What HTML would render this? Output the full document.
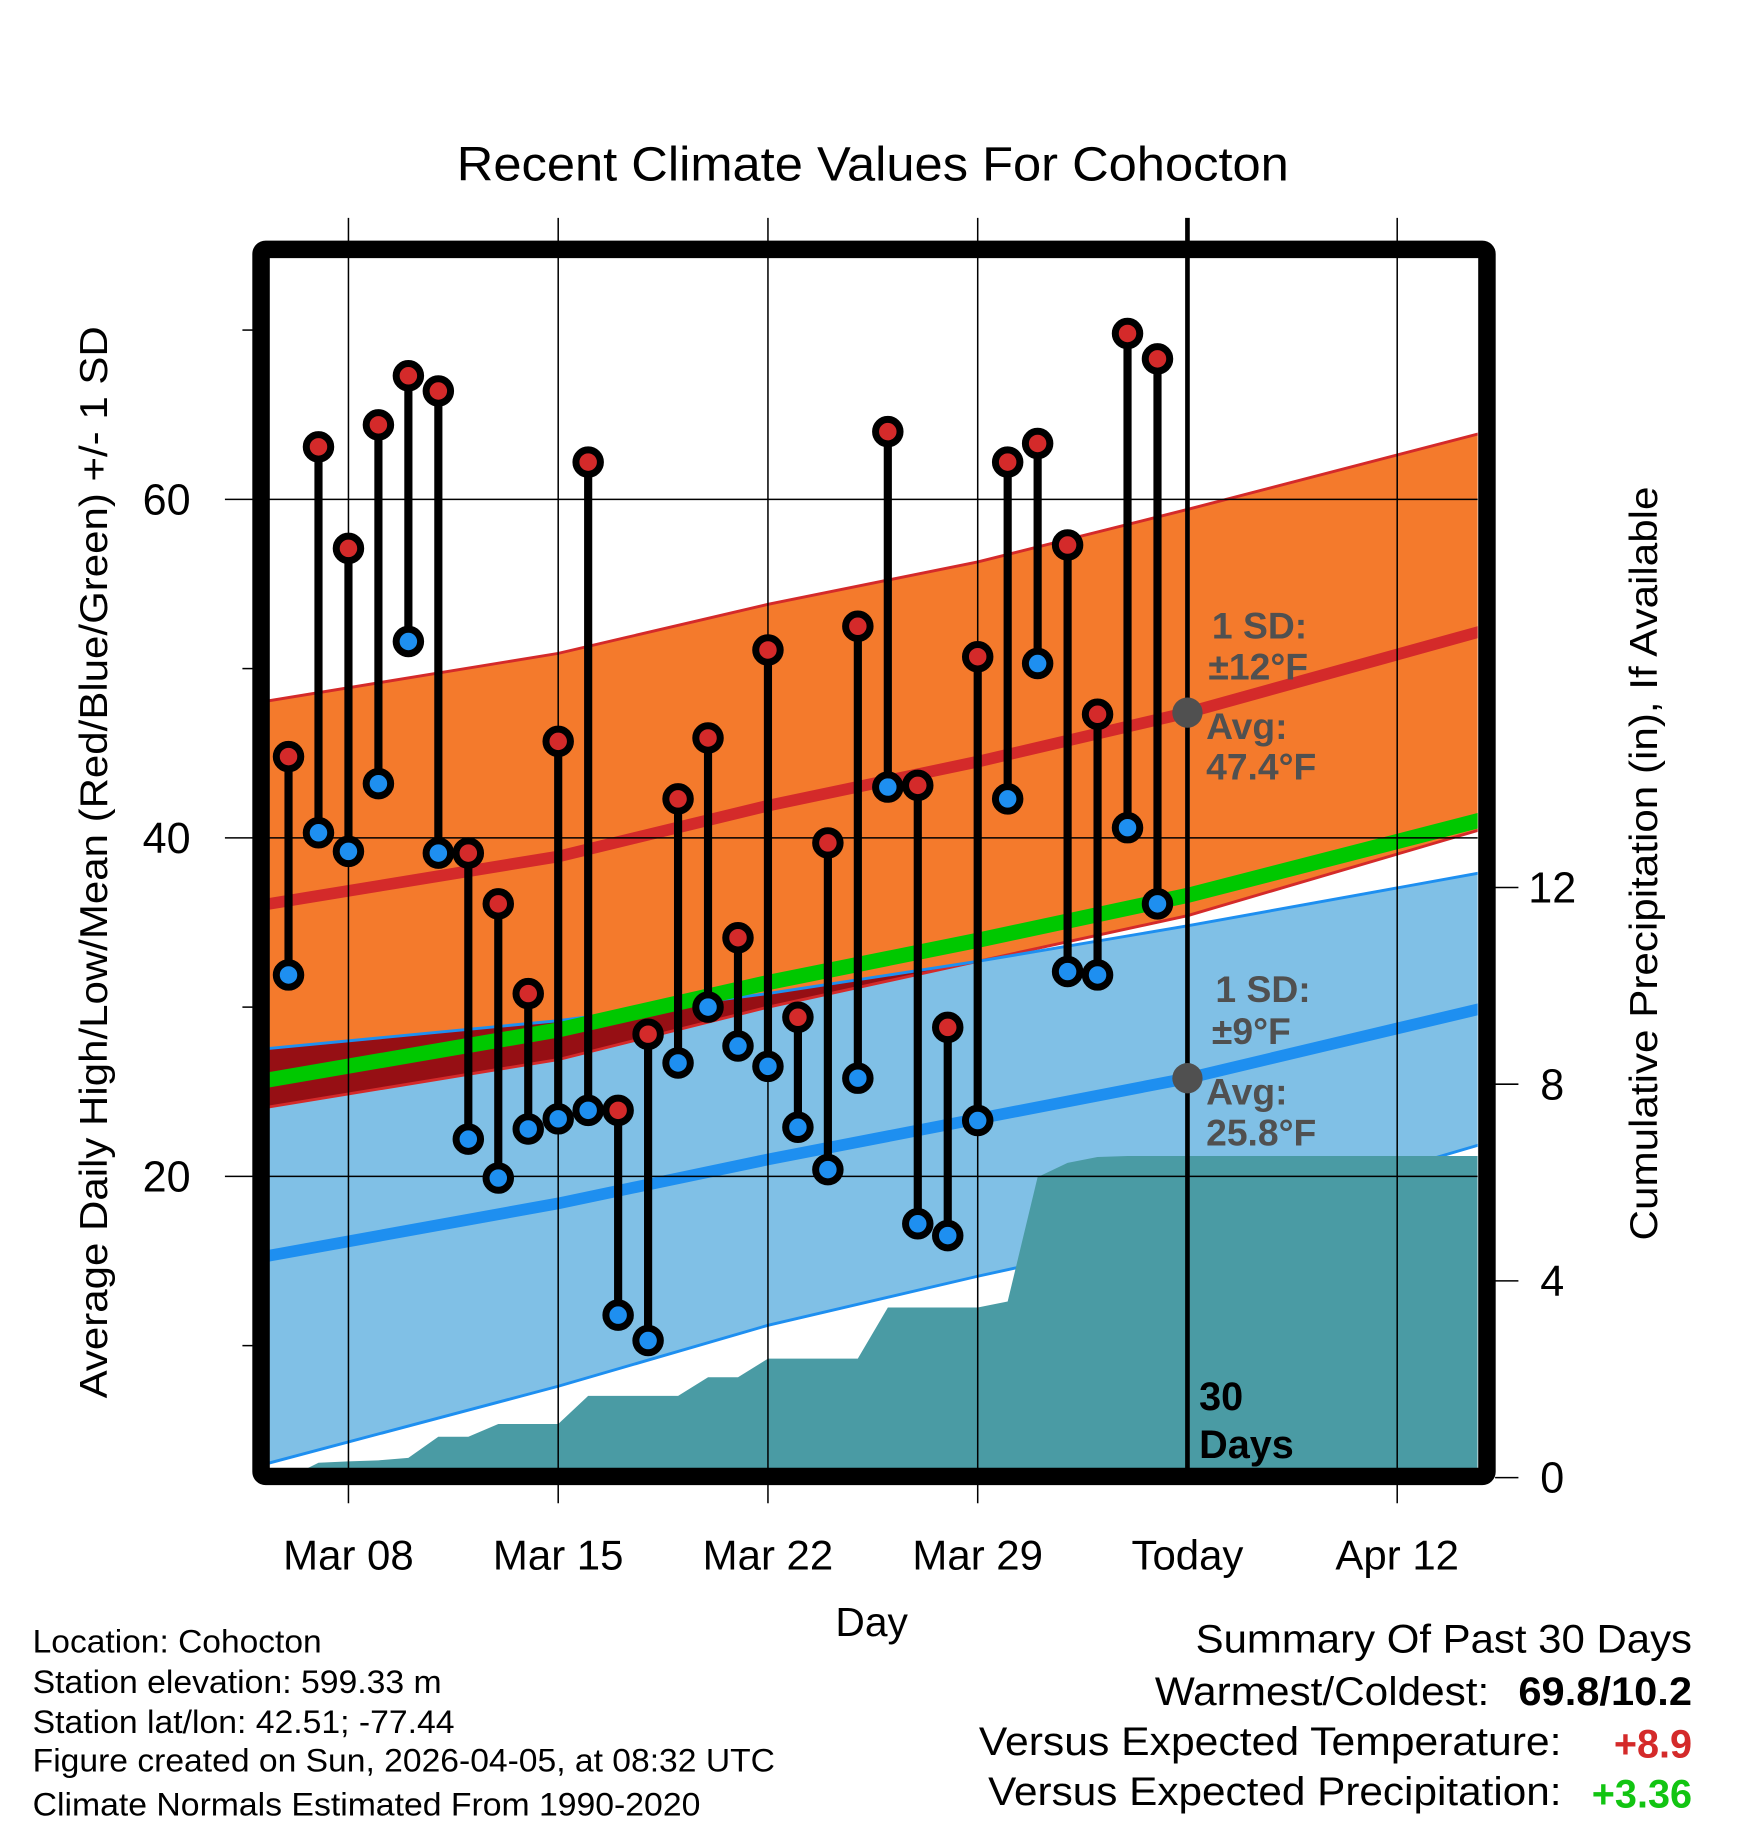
<!DOCTYPE html>
<html><head><meta charset="utf-8"><style>
html,body{margin:0;padding:0;background:#fff}
svg{display:block;font-family:"Liberation Sans",Arial,sans-serif}
</style></head><body>
<svg id="chart" width="1748" height="1828" viewBox="0 0 1500 1568.7" xmlns="http://www.w3.org/2000/svg">
<defs>
<clipPath id="plotclip"><rect x="231" y="221" width="1037" height="1039"/></clipPath>
</defs>
<g id="bands" clip-path="url(#plotclip)"></g>
<g id="grid"></g>
<g id="marks"></g>
<text x="749" y="155" font-size="41" text-anchor="middle" textLength="714" lengthAdjust="spacingAndGlyphs">Recent Climate Values For Cohocton</text>
<text transform="translate(92,740) rotate(-90)" font-size="33" text-anchor="middle" textLength="920" lengthAdjust="spacingAndGlyphs">Average Daily High/Low/Mean (Red/Blue/Green) +/- 1 SD</text>
<text transform="translate(1422,741) rotate(-90)" font-size="33" text-anchor="middle" textLength="647" lengthAdjust="spacingAndGlyphs">Cumulative Precipitation (in), If Available</text>
<text x="748" y="1404" font-size="35" text-anchor="middle">Day</text>
<g font-size="28" fill="#000">
<text x="28" y="1418" textLength="248" lengthAdjust="spacingAndGlyphs">Location: Cohocton</text>
<text x="28" y="1453" textLength="351" lengthAdjust="spacingAndGlyphs">Station elevation: 599.33 m</text>
<text x="28" y="1487" textLength="362" lengthAdjust="spacingAndGlyphs">Station lat/lon: 42.51; -77.44</text>
<text x="28" y="1520" textLength="637" lengthAdjust="spacingAndGlyphs">Figure created on Sun, 2026-04-05, at 08:32 UTC</text>
<text x="28" y="1558" textLength="573" lengthAdjust="spacingAndGlyphs">Climate Normals Estimated From 1990-2020</text>
</g>
<g font-size="34" text-anchor="end">
<text x="1452" y="1418" textLength="426" lengthAdjust="spacingAndGlyphs">Summary Of Past 30 Days</text>
<text x="1278" y="1463" textLength="287" lengthAdjust="spacingAndGlyphs">Warmest/Coldest:</text>
<text x="1452" y="1463" font-weight="bold" textLength="149" lengthAdjust="spacingAndGlyphs">69.8/10.2</text>
<text x="1340" y="1506" textLength="500" lengthAdjust="spacingAndGlyphs">Versus Expected Temperature:</text>
<text x="1452" y="1508" font-weight="bold" fill="#d42a2a">+8.9</text>
<text x="1340" y="1549" textLength="492" lengthAdjust="spacingAndGlyphs">Versus Expected Precipitation:</text>
<text x="1452" y="1551" font-weight="bold" fill="#12c412">+3.36</text>
</g>
<script>
// ---- data ----
const dayLabels = ["Mar 08","Mar 15","Mar 22","Mar 29","Today","Apr 12"];
const dayTicks = [0,7,14,21,28,35];
const obsDays = [-2,-1,0,1,2,3,4,5,6,7,8,9,10,11,12,13,14,15,16,17,18,19,20,21,22,23,24,25,26,27];
const highs = [44.8,63.1,57.1,64.4,67.3,66.4,39.1,36.1,30.8,45.7,62.2,23.9,28.4,42.3,45.9,34.1,51.1,29.4,39.7,52.5,64.0,43.1,28.8,50.7,62.2,63.3,57.3,47.3,69.8,68.3];
const lows = [31.9,40.3,39.2,43.2,51.6,39.1,22.2,19.9,22.8,23.4,23.9,11.8,10.3,26.7,30.0,27.7,26.5,22.9,20.4,25.8,43.0,17.2,16.5,23.3,42.3,50.3,32.1,31.9,40.6,36.1];
const precipCum = [0.0,0.3,0.33,0.35,0.4,0.83,0.83,1.09,1.09,1.09,1.66,1.66,1.66,1.66,2.04,2.04,2.42,2.42,2.42,2.42,3.46,3.46,3.46,3.46,3.58,6.11,6.4,6.52,6.54,6.54];
const normDays = [-3,7,14,21,28,38];
const normHigh = [36.0,38.9,41.9,44.5,47.4,52.3];
const sdHigh = [12.0,12.0,11.9,11.8,12.0,11.7];
const normLow = [15.2,18.4,21.0,23.4,25.8,30.0];
const sdLow = [12.3,10.8,9.8,9.3,9.0,8.0];
const yTicks = [20,40,60];
const yMinor = [10,30,50,70];
const pTicks = [0,4,8,12];

// ---- axes ----
const X = d => 299 + d*25.714;
const Y = t => 719 - (t-40)*14.525;
const P = p => 1268 - p*42.2;
const NS = "http://www.w3.org/2000/svg";
function mk(tag, attrs, parent){const e=document.createElementNS(NS,tag);for(const k in attrs)e.setAttribute(k,attrs[k]);parent.appendChild(e);return e;}
const svg = document.getElementById('chart');
const bands = document.getElementById('bands');
const grid = document.getElementById('grid');
const marks = document.getElementById('marks');

function curve(vals){return normDays.map((d,i)=>[X(d),Y(vals[i])]);}
function pathOf(p){return 'M'+p.map(q=>q[0].toFixed(1)+','+q[1].toFixed(1)).join('L');}
const hiU = curve(normHigh.map((v,i)=>v+sdHigh[i]));
const hiL = curve(normHigh.map((v,i)=>v-sdHigh[i]));
const loU = curve(normLow.map((v,i)=>v+sdLow[i]));
const loL = curve(normLow.map((v,i)=>v-sdLow[i]));
const orangePath = pathOf(hiU)+'L'+hiL.slice().reverse().map(q=>q[0].toFixed(1)+','+q[1].toFixed(1)).join('L')+'Z';
const bluePath = pathOf(loU)+'L'+loL.slice().reverse().map(q=>q[0].toFixed(1)+','+q[1].toFixed(1)).join('L')+'Z';

const defs = svg.querySelector('defs');
const cp = mk('clipPath',{id:'blueclip'},defs);
mk('path',{d:bluePath},cp);

let e;
e = mk('path',{d:orangePath,fill:'#f47a2c'},bands);


e = mk('path',{d:bluePath,fill:'#80c0e6'},bands);


e = mk('path',{d:orangePath,fill:'#960f14','clip-path':'url(#blueclip)'},bands);


[hiU,hiL].forEach(c=>{e=mk('path',{d:pathOf(c),fill:'none',stroke:'#d42a2a','stroke-width':2.5},bands);

});
[loU,loL].forEach(c=>{e=mk('path',{d:pathOf(c),fill:'none',stroke:'#1e8ff0','stroke-width':2.5},bands);

});

// precipitation area
let pp = 'M'+X(obsDays[0]).toFixed(1)+','+P(0);
obsDays.forEach((d,i)=>{pp+='L'+X(d).toFixed(1)+','+P(precipCum[i]).toFixed(1);});
pp += 'L1268,'+P(precipCum[precipCum.length-1]).toFixed(1)+'L1268,1262L'+X(obsDays[0]).toFixed(1)+',1262Z';
e = mk('path',{d:pp,fill:'#4a9ba4'},bands);



// normal lines
e = mk('path',{d:pathOf(curve(normHigh.map((v,i)=>(v+normLow[i])/2))),fill:'none',stroke:'#00c800','stroke-width':13},bands);


e = mk('path',{d:pathOf(curve(normHigh)),fill:'none',stroke:'#d42a2a','stroke-width':10},bands);


e = mk('path',{d:pathOf(curve(normLow)),fill:'none',stroke:'#1e8ff0','stroke-width':10},bands);



// gridlines and ticks
dayTicks.forEach((d,i)=>{
  e = mk('line',{x1:X(d),x2:X(d),y1:187,y2:1290,stroke:'#000','stroke-width':d===28?0:1.3},grid);
  
  
  e = mk('text',{x:X(d),y:1347,'font-size':36,'text-anchor':'middle'},grid);
  e.textContent = dayLabels[i];
  
  
});
yTicks.forEach(t=>{
  e = mk('line',{x1:193,x2:1268,y1:Y(t),y2:Y(t),stroke:'#000','stroke-width':1.3},grid);
  
  
  e = mk('text',{x:143,y:Y(t)+13,'font-size':37,'text-anchor':'middle'},grid);
  e.textContent = t;
  
  
});
yMinor.forEach(t=>{
  e = mk('line',{x1:208,x2:217,y1:Y(t),y2:Y(t),stroke:'#000','stroke-width':1.3},grid);
  
  
});
pTicks.forEach(p=>{
  e = mk('line',{x1:1283,x2:1303,y1:P(p),y2:P(p),stroke:'#000','stroke-width':1.3},grid);
  
  
  e = mk('text',{x:1332,y:P(p)+13,'font-size':37,'text-anchor':'middle'},grid);
  e.textContent = p;
  
  
});
e = mk('line',{x1:X(28),x2:X(28),y1:187,y2:1262,stroke:'#000','stroke-width':4},grid);



// annotations
const ann = [["1 SD:",1040,548],["\u00b112\u00b0F",1037,583],["Avg:",1035,634],["47.4\u00b0F",1035,669],
             ["1 SD:",1043,860],["\u00b19\u00b0F",1040,896],["Avg:",1035,948],["25.8\u00b0F",1035,983]];
ann.forEach(a=>{
  e = mk('text',{x:a[1],y:a[2],'font-size':32,'font-weight':'bold',fill:'#505050'},grid);
  e.textContent = a[0];
  
  
});
[normHigh[4],normLow[4]].forEach(v=>{
  e = mk('circle',{cx:X(28),cy:Y(v),r:13,fill:'#505050'},grid);
  
  
});
[["30",1210],["Days",1251]].forEach(a=>{
  e = mk('text',{x:1029,y:a[1],'font-size':34,'font-weight':'bold',fill:'#000'},grid);
  e.textContent = a[0];
  
  
});

// frame
e = mk('rect',{x:224,y:214,width:1052,height:1053,fill:'none',stroke:'#000','stroke-width':15,rx:4},grid);



// daily marks
obsDays.forEach((d,i)=>{
  const x = X(d);
  e = mk('line',{x1:x,x2:x,y1:Y(highs[i]),y2:Y(lows[i]),stroke:'#000','stroke-width':7},marks);
  
  
  e = mk('circle',{cx:x,cy:Y(highs[i]),r:10.5,fill:'#d42a2a',stroke:'#000','stroke-width':6},marks);
  
  
  e = mk('circle',{cx:x,cy:Y(lows[i]),r:10.5,fill:'#1e8ff0',stroke:'#000','stroke-width':6},marks);
  
  
});
</script>
</svg>
</body></html>
